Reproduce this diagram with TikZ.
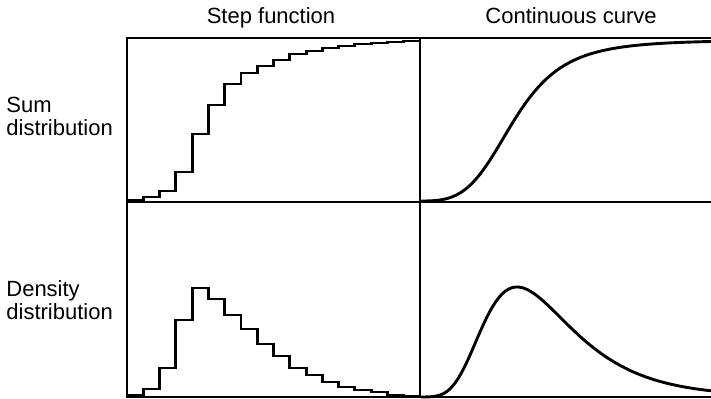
\documentclass[tikz,border=0pt]{standalone}
\usepackage{fontspec}
\setmainfont{Liberation Sans}
\usetikzlibrary{positioning}

\begin{document}
\begin{tikzpicture}[x=0.5pt,y=-0.5pt,
    lbl/.style={inner sep=0pt, font=\fontsize{11}{11.5}\selectfont},
    frame/.style={line width=0.8pt},
    curve/.style={line width=1.45pt, line join=miter}]
    \useasboundingbox (0,0) rectangle (711,398);

    % Headings
    \node[lbl, anchor=base] (step) at (271,23) {Step function};
    \node[lbl, anchor=base] (cont) at (571,23) {Continuous curve};

    % Row labels
    \node[lbl, anchor=west, align=left] (sum) at (6,116) {Sum\\distribution};
    \node[lbl, anchor=west, align=left] (dens) at (6,300) {Density\\distribution};

    % Frame
    \draw[frame] (711,38) -- (127,38) -- (127,398);
    \draw[frame] (127,202) -- (711,202);
    \draw[frame] (127,397) -- (711,397);
    \draw[frame] (420,38) -- (420,398);

    % Sum distribution, steps
    \draw[curve] (127,200) -| (143.3,197) -| (159.6,191) -| (175.8,172)
        -| (192.1,134) -| (208.4,105) -| (224.7,84) -| (241,73)
        -| (257.2,66) -| (273.5,60) -| (289.8,54) -| (306.1,51)
        -| (322.3,48) -| (338.6,46) -| (354.9,44) -| (371.2,43)
        -| (387.4,42) -| (403.7,41) -- (420,41);

    % Density distribution, steps
    \draw[curve] (127,395) -| (143.3,389) -| (159.6,368) -| (175.8,320)
        -| (192.1,288) -| (208.4,299) -| (224.7,315) -| (241,329)
        -| (257.2,344) -| (273.5,356) -| (289.8,368) -| (306.1,375)
        -| (322.3,382) -| (338.6,387) -| (354.9,390) -| (371.2,392)
        -| (387.4,395) -| (403.7,396) -- (420,396);

    % Sum distribution, continuous
    \draw[curve] plot[domain=0.5:291, samples=160]
        ({420+\x}, {201-161/(1+exp(min(-(3+1.5*\x/(94+\x))*ln(\x/94),9)))});

    % Density distribution, continuous
    \draw[curve] plot[domain=1:291, samples=160]
        ({420+\x}, {397-110*exp(-min(pow(ln(\x/97),2)/(0.42+0.08*pow(min(ln(\x/97),0),2)),9))});
\end{tikzpicture}
\end{document}
